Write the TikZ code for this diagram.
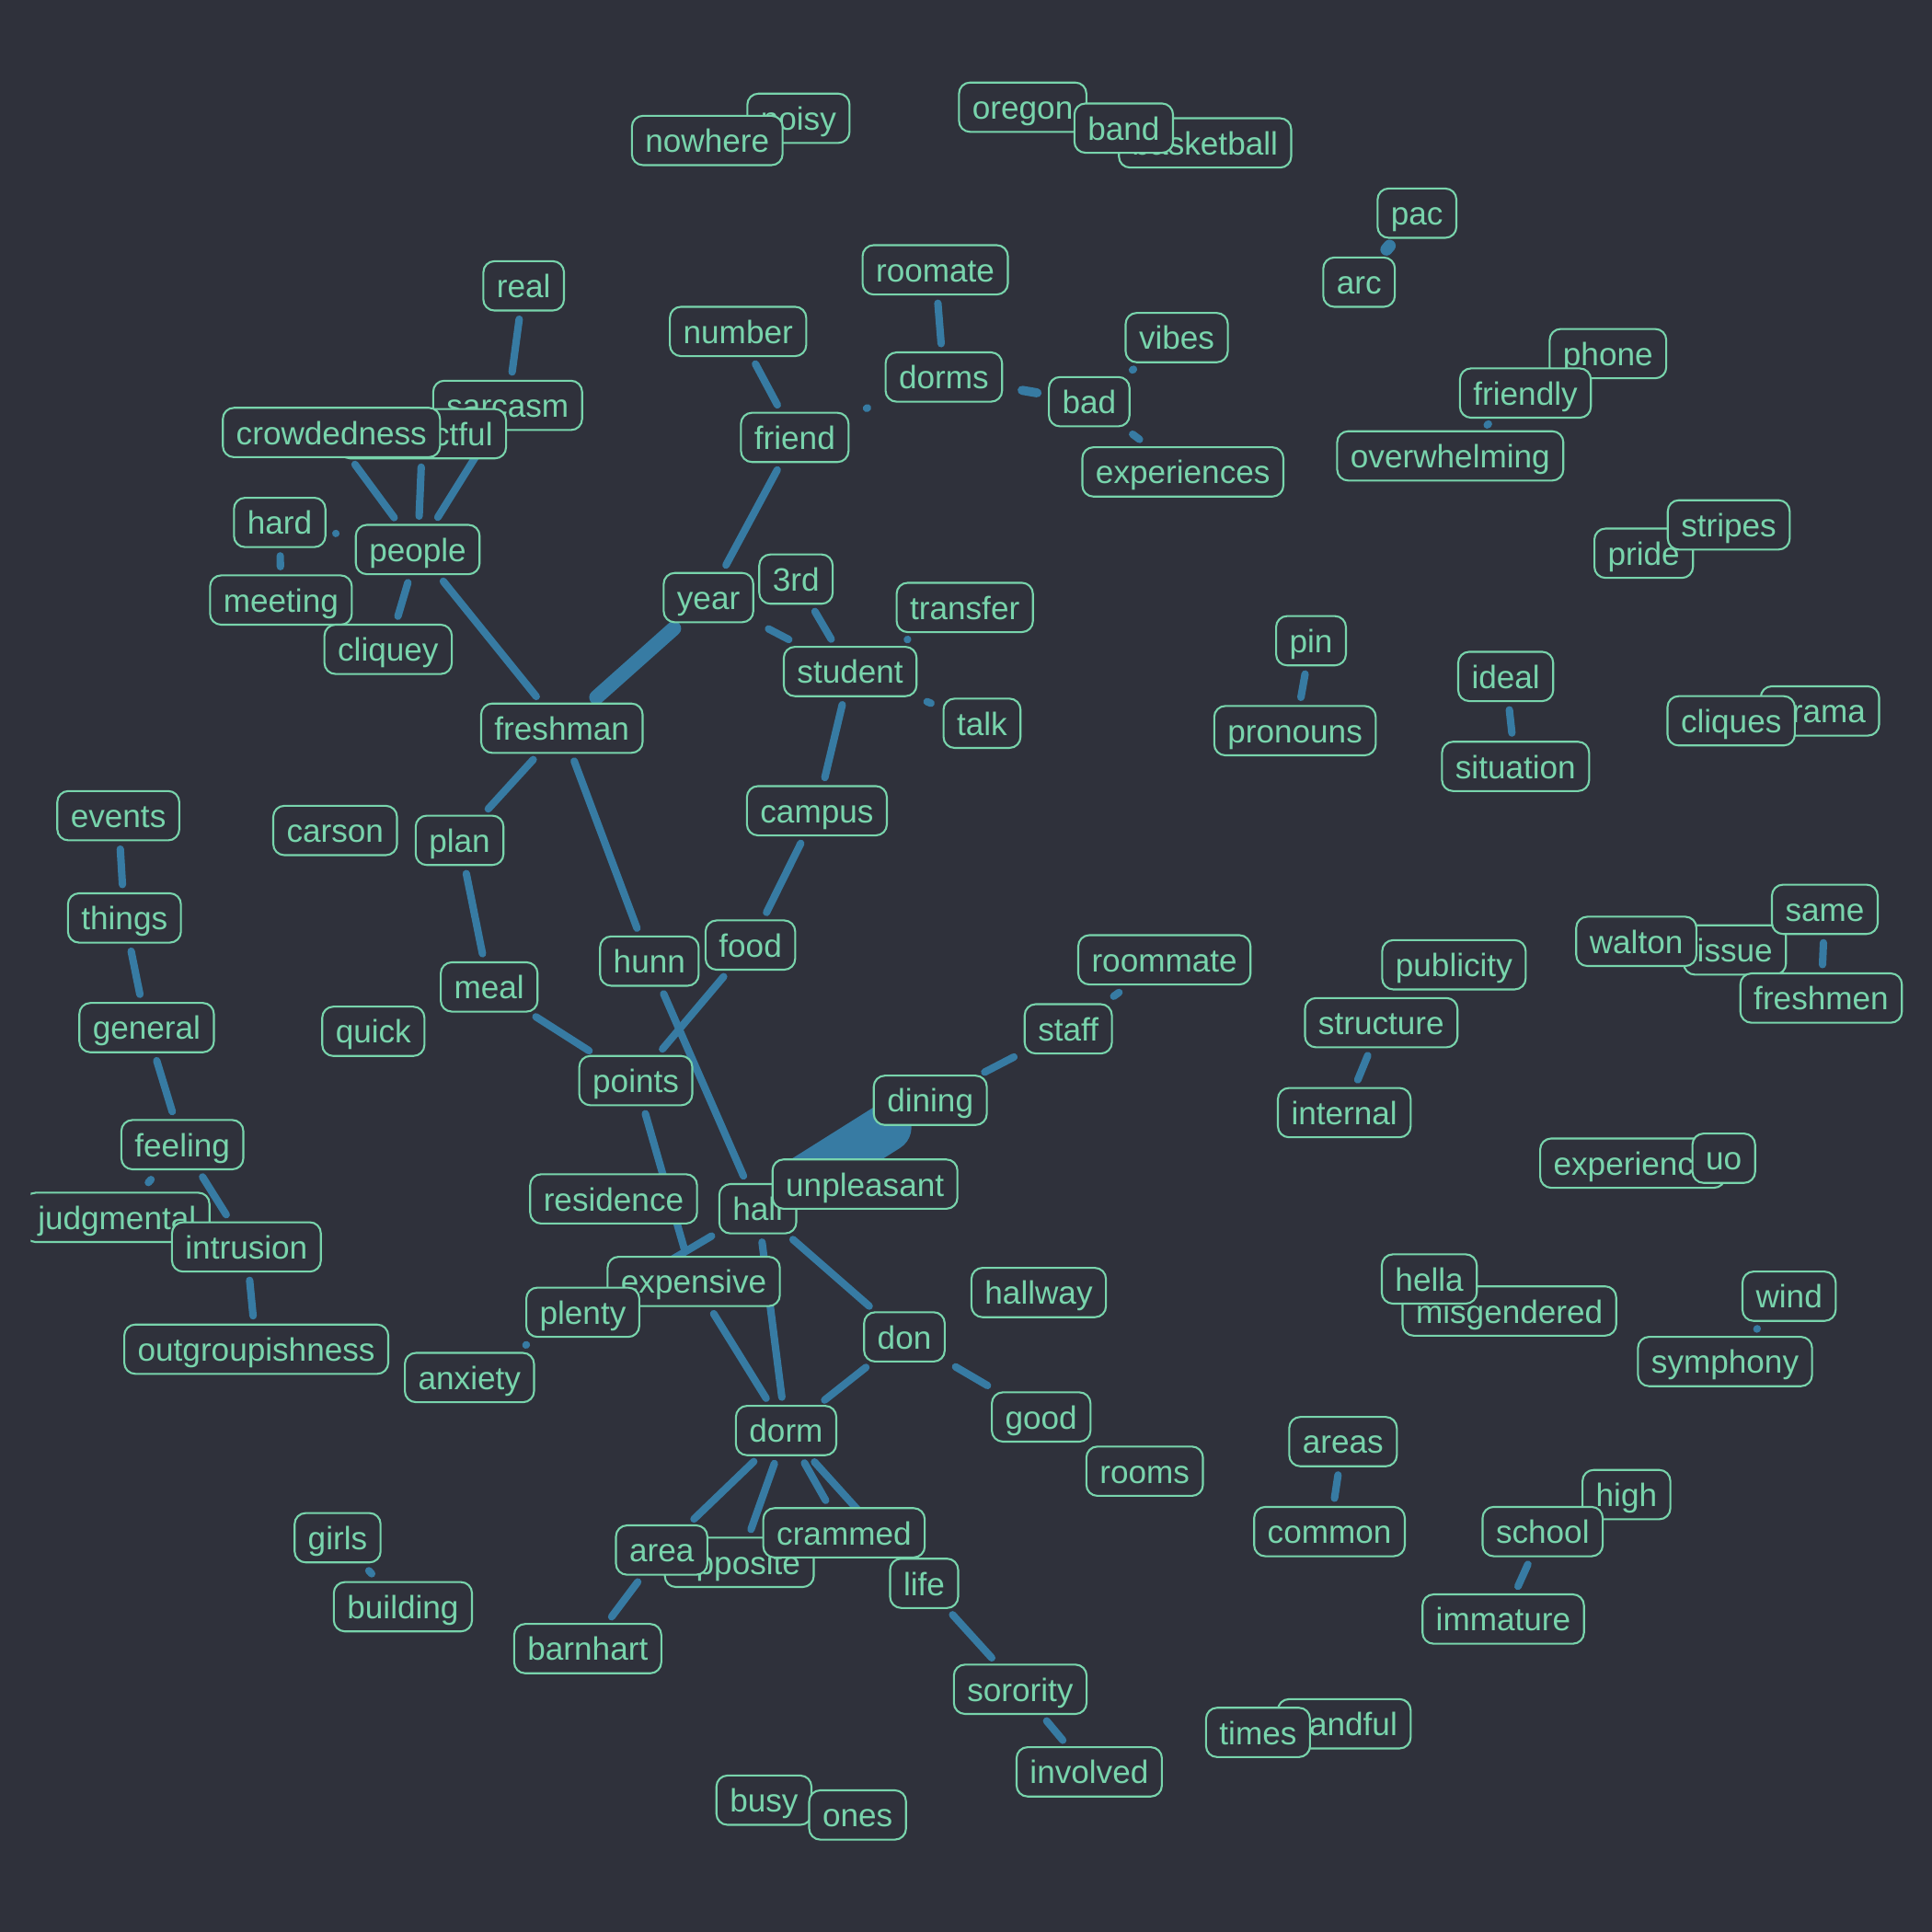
\documentclass[tikz,border=0pt]{standalone}
\usepackage{fontspec}
\setmainfont{Liberation Sans}

\definecolor{bgdark}{RGB}{47,49,59}
\definecolor{mint}{RGB}{120,212,172}
\definecolor{linkblue}{RGB}{55,123,163}

\pgfdeclarelayer{back}
\pgfdeclarelayer{links}
\pgfsetlayers{back,links,main}

\tikzset{
  word/.style={draw=mint, line width=0.6pt, fill=bgdark, text=mint, rounded corners=1.2mm,
    inner xsep=1.45mm, inner ysep=0pt, minimum height=5.36mm,
    font=\fontsize{10pt}{12pt}\selectfont, text height=8.4pt, text depth=1pt},
  link/.style={draw=linkblue, line width=2.3pt, line cap=round, shorten <=0.85mm, shorten >=0.85mm},
  gap/.style={shorten <=#1, shorten >=#1},
}

\begin{document}
\begin{tikzpicture}[x=0.13393mm, y=-0.13393mm]
\begin{pgfonlayer}{back}
\path[fill=bgdark] (0,0) rectangle (1568,1568);
\end{pgfonlayer}

% words
\node[word] (noisy) at (648,96) {noisy};
\node[word] (nowhere) at (574,114) {nowhere};
\node[word] (oregon) at (830,87) {oregon};
\node[word] (basketball) at (978,116) {basketball};
\node[word] (band) at (912,104) {band};
\node[word] (pac) at (1150,173) {pac};
\node[word] (arc) at (1103,229) {arc};
\node[word] (real) at (425,232) {real};
\node[word] (number) at (599,269) {number};
\node[word] (roomate) at (759,219) {roomate};
\node[word] (vibes) at (955,274) {vibes};
\node[word] (dorms) at (766,306) {dorms};
\node[word] (bad) at (884,326) {bad};
\node[word] (phone) at (1305,287) {phone};
\node[word] (friendly) at (1238,319) {friendly};
\node[word] (overwhelming) at (1177,370) {overwhelming};
\node[word] (sarcasm) at (412,329) {sarcasm};
\node[word] (respectful) at (343,352) {respectful};
\node[word] (crowdedness) at (269,351) {crowdedness};
\node[word] (friend) at (645,355) {friend};
\node[word] (experiences) at (960,383) {experiences};
\node[word] (hard) at (227,424) {hard};
\node[word] (people) at (339,446) {people};
\node[word] (meeting) at (228,487) {meeting};
\node[word] (cliquey) at (315,527) {cliquey};
\node[word] (year) at (575,485) {year};
\node[word] (3rd) at (646,470) {3rd};
\node[word] (transfer) at (783,493) {transfer};
\node[word] (student) at (690,545) {student};
\node[word] (talk) at (797,587) {talk};
\node[word] (freshman) at (456,591) {freshman};
\node[word] (pin) at (1064,520) {pin};
\node[word] (pronouns) at (1051,593) {pronouns};
\node[word] (ideal) at (1222,549) {ideal};
\node[word] (situation) at (1230,622) {situation};
\node[word] (pride) at (1334,449) {pride};
\node[word] (stripes) at (1403,426) {stripes};
\node[word] (drama) at (1477,577) {drama};
\node[word] (cliques) at (1405,585) {cliques};
\node[word] (events) at (96,662) {events};
\node[word] (carson) at (272,674) {carson};
\node[word] (plan) at (373,682) {plan};
\node[word] (campus) at (663,658) {campus};
\node[word] (things) at (101,745) {things};
\node[word] (hunn) at (527,780) {hunn};
\node[word] (food) at (609,767) {food};
\node[word] (roommate) at (945,779) {roommate};
\node[word] (meal) at (397,801) {meal};
\node[word] (publicity) at (1180,783) {publicity};
\node[word] (issue) at (1408,771) {issue};
\node[word] (walton) at (1328,764) {walton};
\node[word] (same) at (1481,738) {same};
\node[word] (freshmen) at (1478,810) {freshmen};
\node[word] (general) at (119,834) {general};
\node[word] (quick) at (303,837) {quick};
\node[word] (staff) at (867,835) {staff};
\node[word] (structure) at (1121,830) {structure};
\node[word] (points) at (516,877) {points};
\node[word] (dining) at (755,893) {dining};
\node[word] (internal) at (1091,903) {internal};
\node[word] (feeling) at (148,929) {feeling};
\node[word] (experience) at (1325,944) {experience};
\node[word] (uo) at (1399,940) {uo};
\node[word] (residence) at (498,973) {residence};
\node[word] (hall) at (615,981) {hall};
\node[word] (unpleasant) at (702,961) {unpleasant};
\begin{scope}
\clip (25,0) rectangle (1568,1568);
\node[word] (judgmental) at (95,988) {judgmental};
\end{scope}
\node[word] (intrusion) at (200,1012) {intrusion};
\node[word] (expensive) at (563,1040) {expensive};
\node[word] (hallway) at (843,1049) {hallway};
\node[word] (misgendered) at (1225,1064) {misgendered};
\node[word] (hella) at (1160,1038) {hella};
\node[word] (wind) at (1452,1052) {wind};
\node[word] (plenty) at (473,1065) {plenty};
\node[word] (don) at (734,1085) {don};
\node[word] (outgroupishness) at (208,1095) {outgroupishness};
\node[word] (anxiety) at (381,1118) {anxiety};
\node[word] (symphony) at (1400,1105) {symphony};
\node[word] (good) at (845,1150) {good};
\node[word] (dorm) at (638,1161) {dorm};
\node[word] (areas) at (1090,1170) {areas};
\node[word] (rooms) at (929,1194) {rooms};
\node[word] (high) at (1320,1213) {high};
\node[word] (school) at (1252,1243) {school};
\node[word] (common) at (1079,1243) {common};
\node[word] (girls) at (274,1248) {girls};
\node[word] (opposite) at (600,1268) {opposite};
\node[word] (area) at (537,1258) {area};
\node[word] (crammed) at (685,1244) {crammed};
\node[word] (life) at (750,1285) {life};
\node[word] (building) at (327,1304) {building};
\node[word] (immature) at (1220,1314) {immature};
\node[word] (barnhart) at (477,1338) {barnhart};
\node[word] (sorority) at (828,1371) {sorority};
\node[word] (handful) at (1091,1399) {handful};
\node[word] (times) at (1021,1406) {times};
\node[word] (involved) at (884,1438) {involved};
\node[word] (busy) at (620,1461) {busy};
\node[word] (ones) at (696,1473) {ones};

% links
\begin{pgfonlayer}{links}
\path[link] (real) -- (sarcasm);
\path[link] (people) -- (crowdedness);
\path[link] (people) -- (respectful);
\path[link] (people) -- (sarcasm);
\path[link, shorten <=1.05mm, shorten >=2.1mm] (hard) -- (people);
\path[link] (hard) -- (meeting);
\path[link] (people) -- (cliquey);
\path[link] (people) -- (freshman);
\path[link] (number) -- (friend);
\path[link, gap=2mm] (friend) -- (dorms);
\path[link] (roomate) -- (dorms);
\path[link, line width=2.8pt, shorten <=2.1mm, shorten >=1.2mm] (dorms) -- (bad);
\path[link, gap=1.25mm] (bad) -- (vibes);
\path[link, gap=1.25mm] (bad) -- (experiences);
\path[link] (friend) -- (year);
\path[link, line width=4.5pt] (year) -- (freshman);
\path[link, shorten <=1.75mm, shorten >=1.5mm] (year) -- (student);
\path[link] (3rd) -- (student);
\path[link, gap=1.45mm] (student) -- (transfer);
\path[link, gap=1.35mm] (student) -- (talk);
\path[link] (student) -- (campus);
\path[link] (campus) -- (food);
\path[link] (food) -- (points);
\path[link] (freshman) -- (plan);
\path[link] (freshman) -- (hunn);
\path[link] (plan) -- (meal);
\path[link] (meal) -- (points);
\path[link] (hunn) -- (hall);
\path[link] (points) -- (expensive);
\path[link] (hall) -- (plenty);
\path[link] (hall) -- (dorm);
\path[link] (expensive) -- (dorm);
\path[link] (hall) -- (don);
\path[link] (don) -- (dorm);
\path[link, gap=1.25mm] (don) -- (good);
\path[link, line width=15pt, shorten <=0.3mm] (dining) -- (hall);
\path[link, shorten <=0.6mm, shorten >=1.2mm] (dining) -- (staff);
\path[link, gap=1.3mm] (staff) -- (roommate);
\path[link] (dorm) -- (area);
\path[link] (dorm) -- (opposite);
\path[link] (dorm) -- (crammed);
\path[link] (dorm) -- (life);
\path[link] (area) -- (barnhart);
\path[link] (life) -- (sorority);
\path[link] (sorority) -- (involved);
\path[link, gap=1.1mm] (girls) -- (building);
\path[link] (events) -- (things);
\path[link] (things) -- (general);
\path[link] (general) -- (feeling);
\path[link, gap=1.35mm] (feeling) -- (judgmental);
\path[link] (feeling) -- (intrusion);
\path[link] (intrusion) -- (outgroupishness);
\path[link, gap=1.5mm] (plenty) -- (anxiety);
\path[link, line width=3.8pt, gap=1mm] (pac) -- (arc);
\path[link, gap=1.07mm] (friendly) -- (overwhelming);
\path[link] (pin) -- (pronouns);
\path[link] (ideal) -- (situation);
\path[link] (same) -- (freshmen);
\path[link] (structure) -- (internal);
\path[link, gap=1.1mm] (wind) -- (symphony);
\path[link] (areas) -- (common);
\path[link] (school) -- (immature);
\end{pgfonlayer}
\end{tikzpicture}
\end{document}
